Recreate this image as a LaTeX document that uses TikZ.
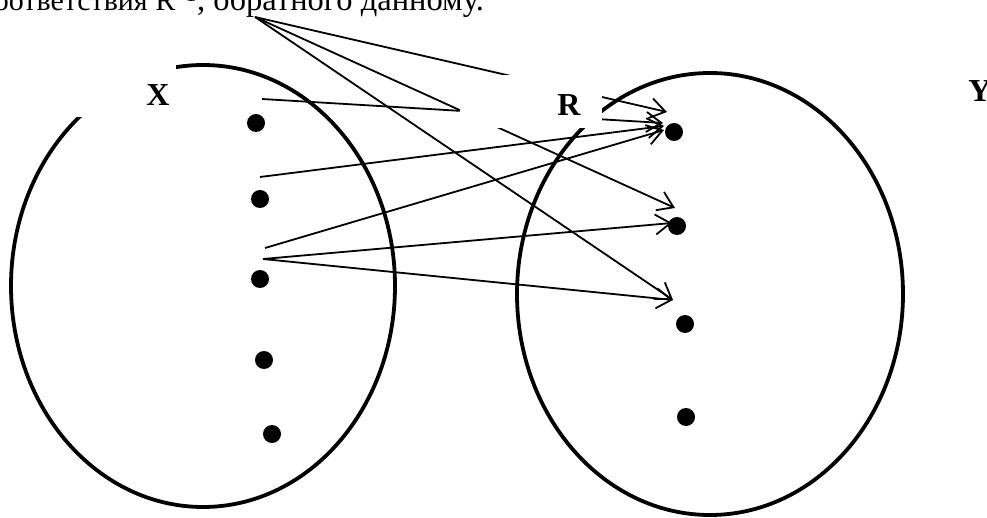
\documentclass[tikz,border=0pt]{standalone}
\usepackage{fontspec}
\setmainfont{Liberation Serif}
\usetikzlibrary{arrows.meta}
\begin{document}
\begin{tikzpicture}[x=1pt,y=-1pt,
  setline/.style={line width=3.8pt},
  link/.style={line width=1.8pt},
  arr/.style={link,-{Straight Barb[length=15pt,width=20pt]}},
  dot/.style={circle,fill=black,inner sep=0pt,minimum size=18pt},
  lbl/.style={font=\fontsize{32}{38}\selectfont\bfseries},
  head/.style={inner sep=0pt},
  mask/.style={fill=white,draw=none}]
\useasboundingbox (0,0) rectangle (987,518);
% sets
\draw[setline] (203,286) ellipse [x radius=192pt, y radius=221pt];
\draw[setline] (710,294) ellipse [x radius=193pt, y radius=221pt];
% coordinates
\coordinate (s0) at (255,17);
\coordinate (p1) at (262,99);
\coordinate (p2) at (260,177);
\coordinate (p3) at (265,248);
\coordinate (p4) at (263,259);
\coordinate (t1) at (667,112);
\coordinate (t2) at (663,123);
\coordinate (t3) at (664,126);
\coordinate (t4) at (664,130);
\coordinate (t5) at (675,208);
\coordinate (t6) at (672,223);
\coordinate (t7) at (673,300);
% connectors
\draw[arr] (s0) -- (t1);
\draw[arr] (s0) -- (t5);
\draw[arr] (s0) -- (t7);
\draw[arr] (p1) -- (t2);
\draw[arr] (p2) -- (t3);
\draw[arr] (p3) -- (t4);
\draw[arr] (p4) -- (t6);
\draw[arr] (p4) -- (t7);
% label boxes (white)
\fill[mask] (55,30) rectangle (176,117);
\fill[mask] (460,75) rectangle (602,128);
% labels
\node[lbl] (lx) at (158,95) {X};
\node[lbl] (lr) at (569,105) {R};
\node[lbl] (ly) at (980,91) {Y};
% elements
\node[dot] (x1) at (256,123) {};
\node[dot] (x2) at (260,199) {};
\node[dot] (x3) at (260,279) {};
\node[dot] (x4) at (264,360) {};
\node[dot] (x5) at (272,434) {};
\node[dot] (y1) at (674,132) {};
\node[dot] (y2) at (677,226) {};
\node[dot] (y3) at (685,324) {};
\node[dot] (y4) at (686,417) {};
% cut-off heading
\coordinate (hc) at (197,11);
\node[head,anchor=base east,font=\fontsize{30}{36}\selectfont] (head1) at (hc) {соответствия R\textsuperscript{–1}};
\node[head,anchor=base west,font=\fontsize{32.5}{39}\selectfont] (head2) at (hc) {, обратного данному.};
\end{tikzpicture}
\end{document}
